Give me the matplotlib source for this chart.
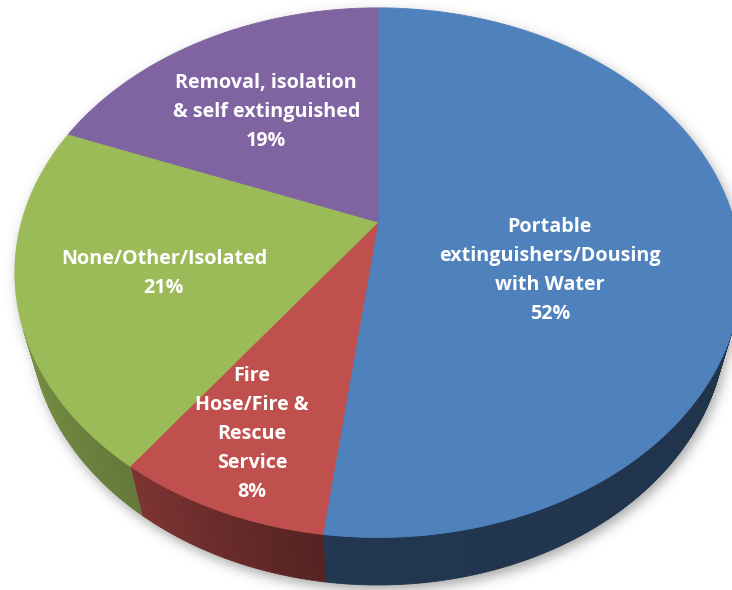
import numpy as np
import matplotlib
matplotlib.use("Agg")
import matplotlib.pyplot as plt
from matplotlib.path import Path
from matplotlib.collections import PolyCollection
from matplotlib.patches import Polygon
from matplotlib.colors import to_rgb

# ---- data -------------------------------------------------------------
categories = [
    "Portable\nextinguishers/Dousing\nwith Water",
    "Fire\nHose/Fire &\nRescue\nService",
    "None/Other/Isolated",
    "Removal, isolation\n& self extinguished",
]
shares = [52, 8, 21, 19]
colors = ["#4F81BD", "#C0504D", "#9BBB59", "#8064A2"]

# ---- label placement on the pie plane (radius fraction, angle nudge in deg)
label_r = [0.50, 0.78, 0.61, 0.58]
label_shift = [18.0, 1.4, -2.4, -1.9]

# ---- canvas -----------------------------------------------------------
W, H = 732, 590
fig = plt.figure(figsize=(W / 100, H / 100), dpi=100)
ax = fig.add_axes([0, 0, 1, 1])
ax.set_xlim(0, W)
ax.set_ylim(H, 0)
ax.axis("off")

# ---- perspective camera for a tilted cylinder of radius 1 -------------
cx, cy = 378.0, 222.0
focal = 1301.0
dist = 3.65
elev = np.radians(45.7)
depth_h = 0.216
se, ce = np.sin(elev), np.cos(elev)


def proj(X, Y, Z):
    X, Y, Z = np.asarray(X, float), np.asarray(Y, float), np.asarray(Z, float)
    dep = dist + Y * ce - Z * se
    px = cx + focal * X / dep
    py = cy - focal * (Y * se + Z * ce) / dep
    return px, py


def rim(theta_deg, z, r=1.0):
    t = np.radians(theta_deg)
    return proj(r * np.sin(t), r * np.cos(t), np.full_like(t, z))


# slice angles, clockwise from the back of the pie
total = float(sum(shares))
bounds = np.concatenate([[0.0], np.cumsum(shares) / total * 360.0])

# ---- soft drop shadow -------------------------------------------------
full = np.linspace(0, 360, 721)
tx, ty = rim(full, 0.0)
bx, by = rim(full, -depth_h)
gx, gy = np.meshgrid(np.arange(W) + 0.5, np.arange(H) + 0.5)
pts = np.column_stack([gx.ravel() - 3.0, gy.ravel() - 5.0])
mask = (Path(np.column_stack([tx, ty])).contains_points(pts)
        | Path(np.column_stack([bx, by])).contains_points(pts))
mask = mask.reshape(H, W).astype(float)
sig = 6.0
kx = np.arange(-int(3 * sig), int(3 * sig) + 1)
kern = np.exp(-0.5 * (kx / sig) ** 2)
kern /= kern.sum()
blur = np.apply_along_axis(lambda m: np.convolve(m, kern, mode="same"), 1, mask)
blur = np.apply_along_axis(lambda m: np.convolve(m, kern, mode="same"), 0, blur)
shadow = np.zeros((H, W, 4))
shadow[..., :3] = 0.42
shadow[..., 3] = blur * 0.6
ax.imshow(shadow, extent=(0, W, H, 0), origin="upper", interpolation="bilinear", zorder=0)

# ---- curved side wall (front, visible part only) ----------------------
vis_lo = np.degrees(np.arccos(-1.0 / (dist * ce)))
vis_hi = 360.0 - vis_lo
shade_pts = [vis_lo, 185.0, 216.0, vis_hi]
shade_val = [0.40, 0.42, 0.65, 0.76]

polys, fcols = [], []
for i in range(len(shares)):
    a0, a1 = max(bounds[i], vis_lo), min(bounds[i + 1], vis_hi)
    if a1 <= a0:
        continue
    n = max(int((a1 - a0) / 0.5), 2)
    ang = np.linspace(a0, a1, n + 1)
    ux, uy = rim(ang, 0.0)
    lx, ly = rim(ang, -depth_h)
    base = np.array(to_rgb(colors[i]))
    for j in range(n):
        polys.append([(ux[j], uy[j]), (ux[j + 1], uy[j + 1]),
                      (lx[j + 1], ly[j + 1]), (lx[j], ly[j])])
        k = np.interp(0.5 * (ang[j] + ang[j + 1]), shade_pts, shade_val)
        fcols.append(np.clip(base * k, 0, 1))
ax.add_collection(PolyCollection(polys, facecolors=fcols, edgecolors=fcols,
                                 linewidths=0.6, zorder=2))

# ---- top face ---------------------------------------------------------
for i in range(len(shares)):
    ang = np.linspace(bounds[i], bounds[i + 1], 200)
    ux, uy = rim(ang, 0.0)
    xy = np.column_stack([np.r_[cx, ux], np.r_[cy, uy]])
    ax.add_patch(Polygon(xy, closed=True, facecolor=colors[i],
                         edgecolor=colors[i], linewidth=0.6, zorder=3))

# ---- labels -----------------------------------------------------------
line_gap = 29.0
for i, name in enumerate(categories):
    mid = 0.5 * (bounds[i] + bounds[i + 1]) + label_shift[i]
    lx, ly = rim(np.array([mid]), 0.0, r=label_r[i])
    lines = name.split("\n") + [f"{shares[i]}%"]
    n = len(lines)
    for j, s in enumerate(lines):
        ax.text(lx[0], ly[0] + (j - (n - 1) / 2) * line_gap, s,
                ha="center", va="center", color="white",
                fontsize=14.2, fontweight="bold",
                family=["Open Sans", "Noto Sans", "DejaVu Sans"],
                zorder=5)

fig.savefig("out.png", dpi=100)
